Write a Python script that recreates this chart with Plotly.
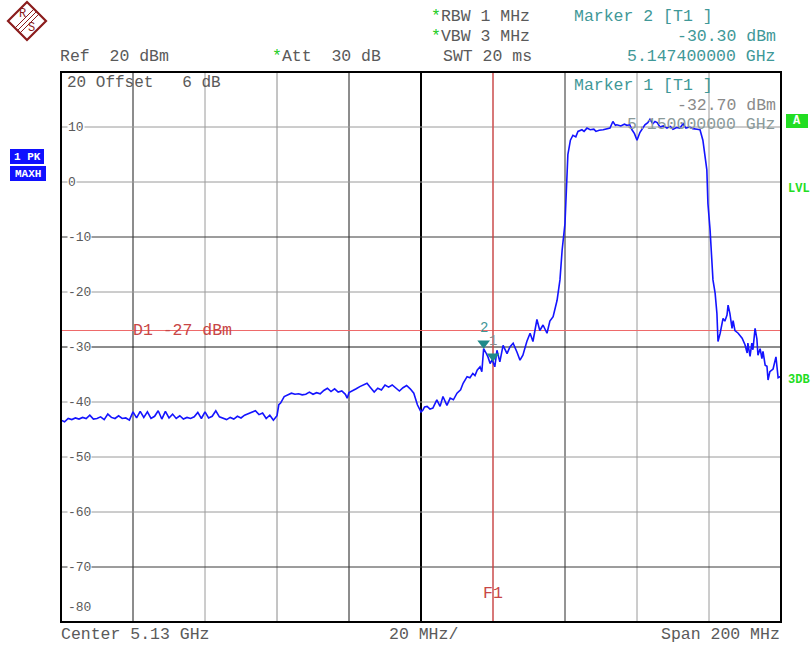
import plotly.graph_objects as go

# ---------------- data ----------------
freq_mhz = [
    5030, 5031, 5032, 5033, 5034, 5035, 5036, 5037, 5038, 5039,
    5040, 5041, 5042, 5043, 5044, 5045, 5046, 5047, 5048, 5049,
    5050, 5051, 5052, 5053, 5054, 5055, 5056, 5057, 5058, 5059,
    5060, 5061, 5062, 5063, 5064, 5065, 5066, 5067, 5068, 5069,
    5070, 5071, 5072, 5073, 5074, 5075, 5076, 5077, 5078, 5079,
    5080, 5081, 5082, 5083, 5084, 5085, 5086, 5087, 5088, 5089,
    5090,
    5090.5, 5091, 5092, 5093, 5094, 5095, 5096, 5097, 5098, 5099,
    5100, 5101, 5102, 5103, 5104, 5105, 5106, 5107, 5108, 5109,
    5109.5, 5110, 5111, 5112, 5113, 5114, 5115, 5116, 5117, 5118,
    5119, 5120, 5121, 5122, 5123, 5124, 5125, 5126, 5127, 5128,
    5129, 5130,
    5130.5, 5131, 5131.7, 5132.5, 5133.3, 5134.4, 5135.3, 5136.1, 5137.2, 5138.1,
    5139, 5140, 5141, 5141.7, 5142.8, 5143.6, 5144.4, 5145, 5145.6, 5146.4,
    5146.9, 5147.4, 5148, 5148.6, 5149.2, 5149.7, 5150, 5150.5, 5151.1, 5151.9,
    5152.8, 5153.9, 5154.7, 5155.6, 5156.7, 5157.5, 5158.3, 5159.4, 5160.3, 5161.1,
    5162.2, 5163, 5163.9, 5165, 5165.8, 5166.7, 5167.8, 5168.6, 5169.2, 5170,
    5170.8, 5171.5, 5172.2, 5173, 5173.6, 5174.7, 5175.3, 5176.1, 5177, 5178,
    5178.6, 5179.5, 5180.6, 5181.5, 5182.5, 5183.3, 5184, 5184.4, 5185.5, 5186.5,
    5187.2, 5188, 5188.6, 5189.3, 5190, 5190.8, 5191.5, 5192.2, 5193, 5193.6,
    5194.4, 5195, 5195.6, 5196.4, 5197.3, 5198.3, 5199.2, 5200, 5201, 5201.9,
    5202.8, 5203.6, 5204.6, 5205.5, 5206.7, 5207.5, 5208.3, 5209, 5209.4, 5209.7,
    5210.3, 5211.1, 5211.7, 5212.2, 5212.5, 5213.1, 5213.6, 5213.9, 5214.4, 5215,
    5215.3, 5215.8, 5216.4, 5216.7, 5217.2, 5218.1, 5219.2, 5220, 5220.6, 5220.8,
    5221.4, 5221.9, 5222.2, 5222.8, 5223.3, 5223.6, 5224.2, 5224.7, 5225, 5225.6,
    5226.1, 5226.4, 5226.9, 5227.8, 5228.6, 5229.2, 5230,
]
level_dbm = [
    -43.3, -43.6, -43.0, -43.2, -42.9, -43.1, -42.8, -43.0, -42.4, -43.1,
    -43.0, -42.7, -43.2, -42.2, -42.8, -43.0, -42.5, -43.0, -42.9, -43.3,
    -41.8, -42.9, -41.7, -42.8, -41.8, -43.0, -42.6, -41.6, -43.1, -41.7,
    -42.9, -42.2, -43.0, -42.5, -43.1, -42.8, -43.0, -42.7, -41.9, -43.0,
    -41.8, -42.9, -42.6, -41.6, -42.7, -43.0, -43.2, -42.8, -43.1, -42.6,
    -42.9, -42.4, -42.1, -41.9, -41.6, -42.3, -42.0, -43.0, -42.4, -43.3,
    -42.5,
    -40.5, -40.2, -39.0, -38.7, -38.4, -38.6, -38.5, -38.7, -38.6, -38.2,
    -38.6, -38.3, -38.5, -37.9, -37.5, -38.1, -37.6, -38.2, -38.0, -38.6,
    -39.3, -38.3, -38.0, -37.6, -37.2, -36.9, -36.6, -37.4, -38.2, -37.5,
    -37.8, -36.9, -37.3, -36.9, -37.4, -38.0, -37.4, -37.0, -37.6, -38.4,
    -40.5, -41.8,
    -41.5, -40.9, -40.8, -41.3, -41.1, -39.6, -40.8, -39.0, -40.6, -39.3,
    -39.6, -38.4, -37.8, -36.6, -35.4, -35.6, -34.8, -35.2, -34.2, -33.6,
    -34.5, -30.3, -31.0, -31.8, -33.0, -32.4, -32.7, -33.6, -30.6, -32.7,
    -29.7, -31.2, -30.0, -29.3, -31.0, -32.4, -31.5, -29.0, -27.5, -29.0,
    -25.0, -27.0, -26.0, -27.5, -25.3, -24.5, -21.5, -17.8, -12.4, -7.5,
    5.0, 7.6, 8.5, 8.2, 9.2, 9.5, 9.2, 9.8, 9.5, 9.6,
    9.2, 9.4, 9.5, 9.6, 9.8, 11.0, 10.3, 10.4, 10.2, 10.5,
    10.3, 10.4, 9.5, 8.8, 7.6, 9.0, 9.8, 10.4, 10.8, 11.4,
    10.6, 11.0, 10.8, 10.0, 10.2, 9.8, 10.1, 9.6, 9.9, 9.8,
    10.6, 9.8, 10.0, 9.7, 9.6, 9.5, 7.6, 4.5, 2.2, -3.9,
    -8.7, -17.8, -20.2, -23.9, -29.0, -27.5, -25.7, -24.8, -25.3, -24.2,
    -22.4, -23.9, -26.6, -25.2, -27.0, -27.5, -28.4, -29.6, -31.1, -29.3,
    -31.7, -29.3, -30.5, -26.6, -28.5, -31.5, -30.3, -32.1, -30.8, -33.3,
    -33.5, -36.0, -34.5, -34.0, -31.8, -35.6, -35.3,
]

marker_names = ["1", "2"]
marker_freq = [5150.0, 5147.4]
marker_level = [-32.70, -30.30]

display_line_dbm = -27
f1_line_mhz = 5150

x_start, x_stop = 5030, 5230
y_bottom, y_top = -80, 20
x_grid = [5050, 5070, 5090, 5110, 5130, 5150, 5170, 5190, 5210]
x_grid_colors = ["#1a1a1a", "#9a9a9a", "#8a8a8a", "#1a1a1a", "#000000",
                 "#9a9a9a", "#2a2a2a", "#9a9a9a", "#9a9a9a"]
x_grid_widths = [1, 1, 1, 1, 2, 1, 1, 1, 1]
y_grid = [10, 0, -10, -20, -30, -40, -50, -60, -70]
y_grid_colors = ["#9a9a9a", "#9a9a9a", "#3a3a3a", "#9a9a9a", "#1a1a1a",
                 "#9a9a9a", "#9a9a9a", "#9a9a9a", "#3a3a3a"]
y_tick_labels = ["10", "0", "-10", "-20", "-30", "-40", "-50", "-60", "-70"]

# ---------------- layout geometry ----------------
W, H = 812, 645
L, R, T, B = 61, 781, 72, 622


def px(x):
    return (x - L) / (R - L)


def py(y):
    return (B - y) / (B - T)


MONO = "Liberation Mono, Courier New, monospace"
GRAY = "#5a5a5a"
TEAL = "#3f9898"
RED = "#c84646"
GREEN = "#22dd22"
STAR = "<span style='color:#22cc22'>*</span>"
FS = 16.5

fig = go.Figure()

fig.add_trace(go.Scatter(
    x=freq_mhz, y=level_dbm, mode="lines",
    line=dict(color="#1414ff", width=1.6), hoverinfo="skip", showlegend=False,
))

# marker triangles (tip at the marker level)
db_per_px = (y_top - y_bottom) / (B - T)
fig.add_trace(go.Scatter(
    x=marker_freq, y=[v + 5.5 * db_per_px for v in marker_level], mode="markers",
    marker=dict(symbol="triangle-down", size=11, color="#1f8a8a"),
    hoverinfo="skip", showlegend=False,
))

shapes = []
for xv, c, w in zip(x_grid, x_grid_colors, x_grid_widths):
    shapes.append(dict(type="line", xref="x", yref="paper", x0=xv, x1=xv, y0=0, y1=1,
                       line=dict(color=c, width=w), layer="below"))
for yv, c in zip(y_grid, y_grid_colors):
    shapes.append(dict(type="line", xref="paper", yref="y", x0=0, x1=1, y0=yv, y1=yv,
                       line=dict(color=c, width=1), layer="below"))
# display line D1 and frequency line F1
shapes.append(dict(type="line", xref="paper", yref="y", x0=0, x1=1,
                   y0=display_line_dbm, y1=display_line_dbm,
                   line=dict(color="#ee6a6a", width=1.2), layer="below"))
shapes.append(dict(type="line", xref="x", yref="paper", x0=f1_line_mhz, x1=f1_line_mhz,
                   y0=0, y1=1, line=dict(color="#e04040", width=1.2), layer="below"))
# frame
shapes.append(dict(type="rect", xref="paper", yref="paper", x0=0, x1=1, y0=0, y1=1,
                   line=dict(color="#000000", width=2)))

# left status boxes
shapes.append(dict(type="rect", xref="paper", yref="paper", x0=px(10), x1=px(44),
                   y0=py(164), y1=py(149), fillcolor="#1010ff", line=dict(width=0)))
shapes.append(dict(type="rect", xref="paper", yref="paper", x0=px(10), x1=px(46),
                   y0=py(181), y1=py(166), fillcolor="#1010ff", line=dict(width=0)))
# right "A" box
shapes.append(dict(type="rect", xref="paper", yref="paper", x0=px(786), x1=px(808),
                   y0=py(128), y1=py(114), fillcolor=GREEN, line=dict(width=0)))

# R&S logo
LOGO = "#8b1c1c"
cx, cy, r = 27, 21, 19
shapes.append(dict(type="path", xref="paper", yref="paper",
                   path=f"M {px(cx)} {py(cy - r)} L {px(cx + r)} {py(cy)} L {px(cx)} {py(cy + r)} L {px(cx - r)} {py(cy)} Z",
                   line=dict(color=LOGO, width=2.2)))
for d in (-2.5, 0, 2.5):
    shapes.append(dict(type="line", xref="paper", yref="paper",
                       x0=px(cx - r / 2 + d), y0=py(cy + r / 2 + d),
                       x1=px(cx + r / 2 + d), y1=py(cy - r / 2 + d),
                       line=dict(color=LOGO, width=1)))

ann = []


def text(x, y, s, color=GRAY, size=FS, xanchor="left", bg=None, bold=False):
    d = dict(xref="paper", yref="paper", x=px(x), y=py(y), text=(f"<b>{s}</b>" if bold else s),
             showarrow=False, xanchor=xanchor, yanchor="middle",
             font=dict(family=MONO, size=size, color=color))
    if bg:
        d["bgcolor"] = bg
        d["borderpad"] = 0
    ann.append(d)


text(58, 56, "Ref&nbsp;&nbsp;20&nbsp;dBm")
text(270, 56, STAR + "Att&nbsp;&nbsp;30&nbsp;dB")
text(441, 56, "SWT&nbsp;20&nbsp;ms")
text(778, 56, "5.147400000&nbsp;GHz", color=TEAL, xanchor="right")
text(429, 16, STAR + "RBW&nbsp;1&nbsp;MHz")
text(429, 36, STAR + "VBW&nbsp;3&nbsp;MHz")
text(572, 16, "Marker&nbsp;2&nbsp;[T1&nbsp;]", color=TEAL)
text(778, 36, "-30.30&nbsp;dBm", color=TEAL, xanchor="right")

text(65, 83, "20&nbsp;Offset&nbsp;&nbsp;&nbsp;6&nbsp;dB", size=16)
text(572, 85, "Marker&nbsp;1&nbsp;[T1&nbsp;]", color=TEAL)
text(778, 105, "-32.70&nbsp;dBm", color="#8a8a8a", xanchor="right")
text(778, 125, "5.150000000&nbsp;GHz", color="#8a9a9a", xanchor="right")

text(131, 330, "D1&nbsp;-27&nbsp;dBm", color=RED)
text(481, 593, "F1", color=RED)

text(59, 634, "Center&nbsp;5.13&nbsp;GHz")
text(387, 634, "20&nbsp;MHz/")
text(782, 634, "Span&nbsp;200&nbsp;MHz", xanchor="right")

# y labels sitting on the grid lines
for yv, lab in zip(y_grid, y_tick_labels):
    ann.append(dict(xref="paper", yref="y", x=px(67), y=yv, text=lab, showarrow=False,
                    xanchor="left", yanchor="middle", bgcolor="white", borderpad=0,
                    font=dict(family=MONO, size=13, color=GRAY)))
text(66, 607, "-80", size=13)

# marker labels
for name, f, v in zip(marker_names, marker_freq, marker_level):
    ann.append(dict(xref="x", yref="y", x=f, y=v, text=name, showarrow=False,
                    xanchor="center", yanchor="bottom", yshift=11,
                    font=dict(family=MONO, size=14, color=TEAL if name == "2" else "#8a8a8a")))

# side labels
text(27, 157, "1&nbsp;PK", color="white", size=11, xanchor="center", bold=True)
text(28, 174, "MAXH", color="white", size=11, xanchor="center", bold=True)
text(797, 121, "A", color="white", size=12, xanchor="center", bold=True)
text(786, 189, "LVL", color=GREEN, size=12, bold=True)
text(786, 380, "3DB", color=GREEN, size=12, bold=True)

# logo letters
text(22, 14, "R", color=LOGO, size=12, xanchor="center")
text(32, 28, "S", color=LOGO, size=12, xanchor="center")

fig.update_layout(
    width=W, height=H,
    margin=dict(l=L, r=W - R, t=T, b=H - B),
    paper_bgcolor="white", plot_bgcolor="white",
    xaxis=dict(range=[x_start, x_stop], showgrid=False, zeroline=False,
               showticklabels=False, ticks="", fixedrange=True),
    yaxis=dict(range=[y_bottom, y_top], showgrid=False, zeroline=False,
               showticklabels=False, ticks="", fixedrange=True),
    shapes=shapes, annotations=ann, showlegend=False,
)

fig.write_html(
    "out.html",
    config={"displayModeBar": False},
    post_script="document.body.style.margin='0';document.body.style.overflow='hidden';",
)
